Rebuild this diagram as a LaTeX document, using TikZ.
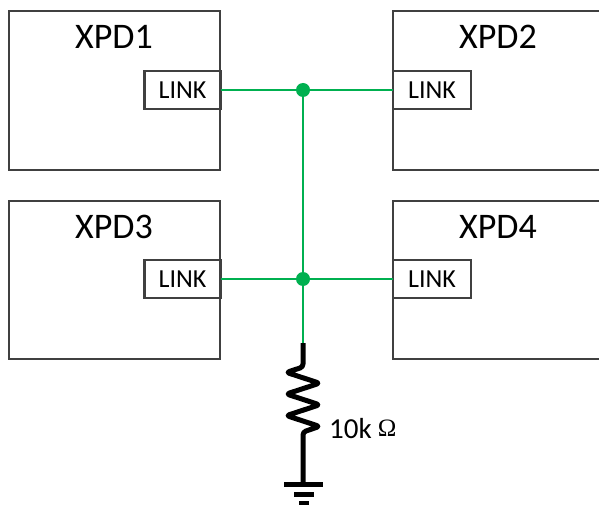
\documentclass[tikz,border=0pt]{standalone}
\usepackage{fontspec}
\setmainfont{Carlito}
\newfontfamily\omfont{Liberation Serif}
\definecolor{boxgray}{HTML}{404040}
\definecolor{wiregreen}{HTML}{00B050}
\begin{document}
\begin{tikzpicture}[x=1pt,y=-1pt,
  devbox/.style={draw=boxgray,line width=2.6pt,rectangle,inner sep=0pt,outer sep=0pt},
  linkbox/.style={devbox,fill=white,font=\fontsize{26}{30}\selectfont},
  title/.style={inner sep=0pt,font=\fontsize{36}{40}\selectfont},
  wire/.style={draw=wiregreen,line width=2.8pt},
  dot/.style={circle,fill=wiregreen,inner sep=0pt,minimum size=14pt},
  res/.style={draw=black,line width=5pt,line join=round,rounded corners=3pt},
  gbar/.style={draw=black,line width=5pt}]
\useasboundingbox (0,0) rectangle (599,505);
\clip (0,0) rectangle (599,505);
% device boxes
\node[devbox,minimum width=211pt,minimum height=159pt] (xpd1) at (114.5,90.5) {};
\node[devbox,minimum width=211pt,minimum height=159pt] (xpd2) at (498.5,90.5) {};
\node[devbox,minimum width=211pt,minimum height=158pt] (xpd3) at (114.5,280) {};
\node[devbox,minimum width=211pt,minimum height=158pt] (xpd4) at (498.5,280) {};
\node[title] (t1) at (114,37) {XPD1};
\node[title] (t2) at (498,37) {XPD2};
\node[title] (t3) at (114,227) {XPD3};
\node[title] (t4) at (498,227) {XPD4};
% link boxes
\node[linkbox,minimum width=76pt,minimum height=38pt] (l1) at (182.5,90) {LINK};
\node[linkbox,minimum width=78pt,minimum height=38pt] (l2) at (432,90) {LINK};
\node[linkbox,minimum width=76pt,minimum height=38pt] (l3) at (182.5,279) {LINK};
\node[linkbox,minimum width=78pt,minimum height=38pt] (l4) at (432,279) {LINK};
% wires
\coordinate (j1) at (303,90);
\coordinate (j2) at (303,279);
\coordinate (rtop) at (303,343);
\draw[wire] (l1.east) -- (j1) -- (l2.west);
\draw[wire] (l3.east) -- (j2) -- (l4.west);
\draw[wire] (j1) -- (j2) -- (rtop);
\node[dot] (d1) at (j1) {};
\node[dot] (d2) at (j2) {};
% resistor
\coordinate (rz1) at (303,367);
\coordinate (rz2) at (303,432);
\coordinate (gnd) at (303,484);
\draw[res] (rtop) -- (rz1) -- (286.5,372.4) -- (319.5,383.2) -- (286.5,394)
  -- (319.5,404.8) -- (286.5,415.6) -- (319.5,426.4) -- (rz2) -- (gnd);
% ground
\draw[gbar] (284,484) -- (323,484);
\draw[gbar] (294,494) -- (314,494);
\draw[gbar] (299,503.5) -- (309,503.5);
% label
\node[anchor=base west,inner sep=0pt] (rlab) at (329,438)
  {\fontsize{29}{32}\selectfont 10k\hspace{6pt}\raisebox{1.5pt}{\omfont\fontsize{25}{28}\selectfont Ω}};
\end{tikzpicture}
\end{document}
